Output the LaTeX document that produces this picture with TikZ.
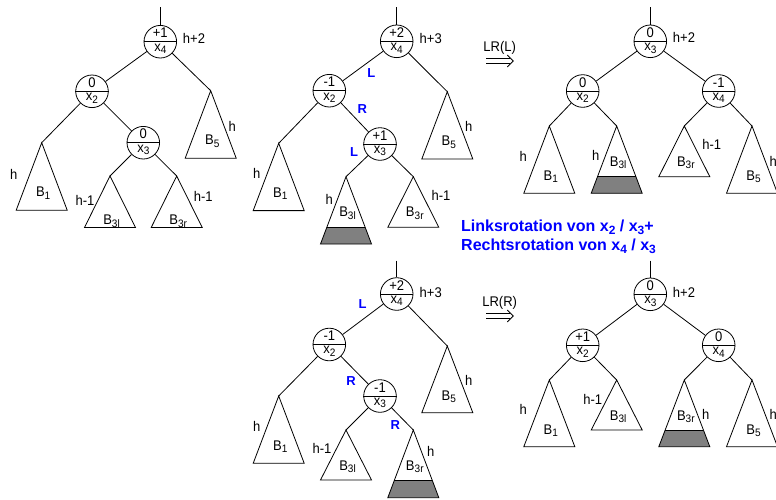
\documentclass[tikz,border=0pt]{standalone}
\usepackage{fontspec}
\setmainfont{Liberation Sans}
\newfontfamily\labelfont{Liberation Sans}[FakeStretch=0.93]
\usetikzlibrary{calc}
\definecolor{rotblue}{RGB}{0,0,255}
\definecolor{bandgray}{RGB}{128,128,128}

% subscripts for the plain labels and for the bold notes
\newcommand\sbs[1]{\raisebox{-2.5pt}{\fontsize{10.8}{11}\selectfont#1}}
\newcommand\sbb[1]{\raisebox{-3.5pt}{\fontsize{12}{12}\selectfont#1}}

\tikzset{
  every node/.style={font=\labelfont\fontsize{14}{16}\selectfont, inner sep=0pt},
  edge/.style={line width=0.8pt},
  knot/.style={circle, draw, line width=0.8pt, minimum size=32.6pt, inner sep=0pt},
  dirlabel/.style={text=rotblue, font=\rmfamily\fontsize{13}{15}\selectfont\bfseries},
  rotnote/.style={text=rotblue, anchor=base west, font=\rmfamily\fontsize{16}{19}\selectfont\bfseries},
}

% AVL node: circle split by a horizontal line, balance on top, key below
\newcommand\avl[4]{%
  \node[knot] (#1) at (#2) {};
  \draw[edge] (#1.west) -- (#1.east);
  \node[anchor=base] (#1b) at ([yshift=3.8pt]#1.center) {#3};
  \node[anchor=base] (#1k) at ([yshift=-9.4pt]#1.center) {#4};
}
% subtree triangle: name, apex, height, label, label baseline offset
\newcommand\subtree[5]{%
  \coordinate (#1) at (#2);
  \draw[edge, line join=miter] ($(#1)+(-25.5,#3)$) -- (#1) -- ($(#1)+(25.5,#3)$) -- cycle;
  \node[anchor=base] (#1l) at ($(#1)+(1.5,#5)$) {#4};
}
% subtree with a shaded bottom level: name, apex, height, band top, label, label offset
\newcommand\bandtree[6]{%
  \coordinate (#1) at (#2);
  \fill[bandgray] ($(#1)+({-25.5*#4/#3},#4)$) -- ($(#1)+({25.5*#4/#3},#4)$)
     -- ($(#1)+(25.5,#3)$) -- ($(#1)+(-25.5,#3)$) -- cycle;
  \draw[edge] ($(#1)+({-25.5*#4/#3},#4)$) -- ($(#1)+({25.5*#4/#3},#4)$);
  \draw[edge, line join=miter] ($(#1)+(-25.5,#3)$) -- (#1) -- ($(#1)+(25.5,#3)$) -- cycle;
  \node[anchor=base] (#1l) at ($(#1)+(1.5,#6)$) {#5};
}
% double "implies" arrow centred on a named coordinate
\newcommand\impliesarrow[1]{%
  \draw[line width=0.8pt] ($(#1)+(-13.7,-2.4)$) -- ($(#1)+(10.6,-2.4)$);
  \draw[line width=0.8pt] ($(#1)+(-13.7,2.4)$) -- ($(#1)+(10.6,2.4)$);
  \draw[line width=0.8pt, line join=miter] ($(#1)+(7.6,-6)$) -- ($(#1)+(13.6,0)$) -- ($(#1)+(7.6,6)$);
}

\begin{document}
\begin{tikzpicture}[x=1pt, y=-1pt]
\useasboundingbox (0,0) rectangle (776,499);

% ---------- tree 1: before insertion ----------
\coordinate (p1top) at (160.3,7);
\avl{p1x4}{160.3,41.7}{+1}{x\sbs{4}}
\avl{p1x2}{92,91.3}{0}{x\sbs{2}}
\avl{p1x3}{143.3,142.7}{0}{x\sbs{3}}
\subtree{p1B1}{41.7,142.7}{67.5}{B\sbs{1}}{54}
\subtree{p1B3l}{110,176}{51.5}{B\sbs{3l}}{48.5}
\subtree{p1B3r}{176.7,176}{51.5}{B\sbs{3r}}{48.5}
\subtree{p1B5}{210.7,90.7}{67.5}{B\sbs{5}}{54}
\draw[edge] (p1top) -- (p1x4);
\draw[edge] (p1x4) -- (p1x2);
\draw[edge] (p1x4) -- (p1B5);
\draw[edge] (p1x2) -- (p1B1);
\draw[edge] (p1x2) -- (p1x3);
\draw[edge] (p1x3) -- (p1B3l);
\draw[edge] (p1x3) -- (p1B3r);
\node (p1h0) at (194,38) {h+2};
\node (p1h1) at (13.7,174.3) {h};
\node (p1h2) at (85,200) {h-1};
\node (p1h3) at (203.3,196.7) {h-1};
\node (p1h4) at (232.3,126.7) {h};

% ---------- tree 2: B3l has grown ----------
\coordinate (p2top) at (396.7,7);
\avl{p2x4}{396.7,41.3}{+2}{x\sbs{4}}
\avl{p2x2}{329.3,90.7}{-1}{x\sbs{2}}
\avl{p2x3}{380,144}{+1}{x\sbs{3}}
\subtree{p2B1}{278.7,143.3}{67.3}{B\sbs{1}}{54}
\bandtree{p2B3l}{346,176.7}{67.3}{50.6}{B\sbs{3l}}{40}
\subtree{p2B3r}{413.3,176.7}{50.6}{B\sbs{3r}}{40}
\subtree{p2B5}{447.3,91.7}{67.3}{B\sbs{5}}{54}
\draw[edge] (p2top) -- (p2x4);
\draw[edge] (p2x4) -- (p2x2);
\draw[edge] (p2x4) -- (p2B5);
\draw[edge] (p2x2) -- (p2B1);
\draw[edge] (p2x2) -- (p2x3);
\draw[edge] (p2x3) -- (p2B3l);
\draw[edge] (p2x3) -- (p2B3r);
\node (p2h0) at (430.7,38.3) {h+3};
\node (p2h1) at (256.7,173.3) {h};
\node (p2h2) at (329.3,199.3) {h};
\node (p2h3) at (441,195) {h-1};
\node (p2h4) at (468.7,126.7) {h};
\node[dirlabel] (p2d1) at (371.3,72.7) {L};
\node[dirlabel] (p2d2) at (362.3,109) {R};
\node[dirlabel] (p2d3) at (354,151.7) {L};

% ---------- step LR(L) ----------
\node (s1) at (499.7,47.7) {LR(L)};
\coordinate (s1a) at (499.7,61);
\impliesarrow{s1a}

% ---------- tree 3: after double rotation ----------
\coordinate (p3top) at (650.3,7);
\avl{p3x3}{650.3,41.3}{0}{x\sbs{3}}
\avl{p3x2}{582.7,91}{0}{x\sbs{2}}
\avl{p3x4}{718.7,91}{-1}{x\sbs{4}}
\subtree{p3B1}{549.3,126}{67.3}{B\sbs{1}}{54}
\bandtree{p3B3l}{616.7,126}{67.3}{50.7}{B\sbs{3l}}{40}
\subtree{p3B3r}{684.3,126}{50.7}{B\sbs{3r}}{40}
\subtree{p3B5}{752,126}{67.3}{B\sbs{5}}{54}
\draw[edge] (p3top) -- (p3x3);
\draw[edge] (p3x3) -- (p3x2);
\draw[edge] (p3x3) -- (p3x4);
\draw[edge] (p3x2) -- (p3B1);
\draw[edge] (p3x2) -- (p3B3l);
\draw[edge] (p3x4) -- (p3B3r);
\draw[edge] (p3x4) -- (p3B5);
\node (p3h0) at (684,37.7) {h+2};
\node (p3h1) at (523.3,156.7) {h};
\node (p3h2) at (595.7,155.7) {h};
\node (p3h3) at (711.7,144.3) {h-1};
\node (p3h4) at (773.3,161.7) {h};

% ---------- explanation ----------
\node[rotnote] (n1) at (461,231) {Linksrotation von x\sbb{2} / x\sbb{3}+};
\node[rotnote] (n2) at (461,250) {Rechtsrotation von x\sbb{4} / x\sbb{3}};

% ---------- tree 4: B3r has grown ----------
\coordinate (p4top) at (396.7,260.7);
\avl{p4x4}{396.7,294}{+2}{x\sbs{4}}
\avl{p4x2}{329.3,344.5}{-1}{x\sbs{2}}
\avl{p4x3}{380,396}{-1}{x\sbs{3}}
\subtree{p4B1}{278.7,396}{67.3}{B\sbs{1}}{54}
\subtree{p4B3l}{346,430}{50}{B\sbs{3l}}{40}
\bandtree{p4B3r}{413.3,430}{67.7}{50}{B\sbs{3r}}{40}
\subtree{p4B5}{447.3,346}{66.7}{B\sbs{5}}{54}
\draw[edge] (p4top) -- (p4x4);
\draw[edge] (p4x4) -- (p4x2);
\draw[edge] (p4x4) -- (p4B5);
\draw[edge] (p4x2) -- (p4B1);
\draw[edge] (p4x2) -- (p4x3);
\draw[edge] (p4x3) -- (p4B3l);
\draw[edge] (p4x3) -- (p4B3r);
\node (p4h0) at (430.7,292.3) {h+3};
\node (p4h1) at (256.7,426) {h};
\node (p4h2) at (322,448.3) {h-1};
\node (p4h3) at (430.7,451.7) {h};
\node (p4h4) at (468.7,380) {h};
\node[dirlabel] (p4d1) at (362.7,304.3) {L};
\node[dirlabel] (p4d2) at (351,380.7) {R};
\node[dirlabel] (p4d3) at (395.3,425) {R};

% ---------- step LR(R) ----------
\node (s2) at (499.7,302.7) {LR(R)};
\coordinate (s2a) at (499.7,316);
\impliesarrow{s2a}

% ---------- tree 5: after double rotation ----------
\coordinate (p5top) at (650.3,260.7);
\avl{p5x3}{650.3,294.3}{0}{x\sbs{3}}
\avl{p5x2}{582.7,345.3}{+1}{x\sbs{2}}
\avl{p5x4}{718.7,345.3}{0}{x\sbs{4}}
\subtree{p5B1}{549.3,380}{66.7}{B\sbs{1}}{54}
\subtree{p5B3l}{616.7,380}{50}{B\sbs{3l}}{40}
\bandtree{p5B3r}{684.3,380}{66.7}{50}{B\sbs{3r}}{40}
\subtree{p5B5}{752,380}{66.7}{B\sbs{5}}{54}
\draw[edge] (p5top) -- (p5x3);
\draw[edge] (p5x3) -- (p5x2);
\draw[edge] (p5x3) -- (p5x4);
\draw[edge] (p5x2) -- (p5B1);
\draw[edge] (p5x2) -- (p5B3l);
\draw[edge] (p5x4) -- (p5B3r);
\draw[edge] (p5x4) -- (p5B5);
\node (p5h0) at (684,292.3) {h+2};
\node (p5h1) at (523.3,409.3) {h};
\node (p5h2) at (592.7,399) {h-1};
\node (p5h3) at (705.7,414.3) {h};
\node (p5h4) at (773.3,414) {h};
\end{tikzpicture}
\end{document}
